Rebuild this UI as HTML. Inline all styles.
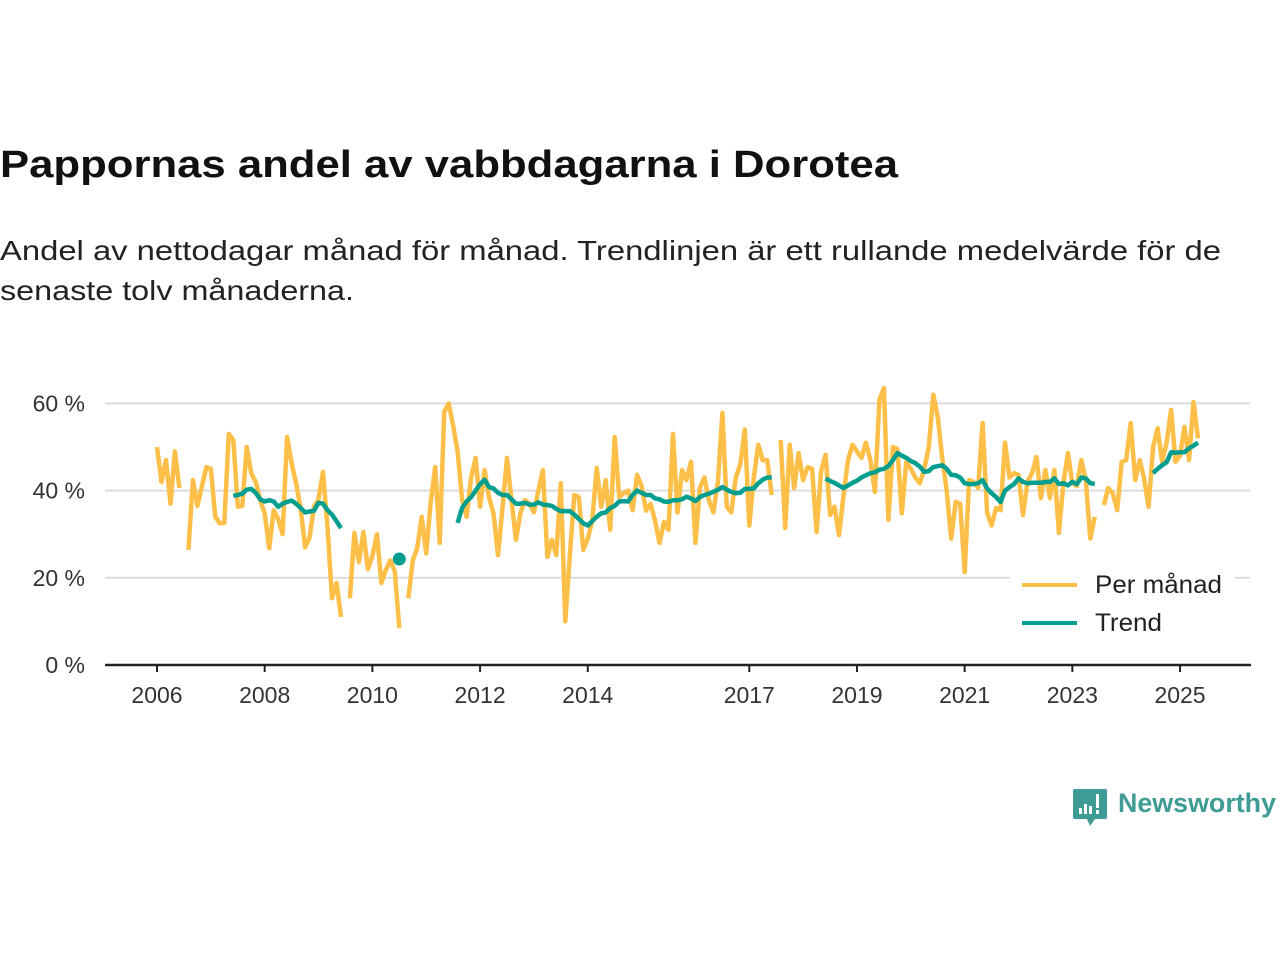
<!DOCTYPE html>
<html><head><meta charset="utf-8"><style>
html,body{margin:0;padding:0;background:#fff;width:1280px;height:960px;overflow:hidden}
svg{display:block;font-family:"Liberation Sans",sans-serif}
</style></head><body>
<svg id="chart" width="1280" height="960" viewBox="0 0 1280 960">
<text x="0" y="177" font-size="38" font-weight="bold" fill="#111" textLength="898" lengthAdjust="spacingAndGlyphs">Pappornas andel av vabbdagarna i Dorotea</text>
<text x="0" y="260" font-size="28" fill="#222" textLength="1221" lengthAdjust="spacingAndGlyphs">Andel av nettodagar månad för månad. Trendlinjen är ett rullande medelvärde för de</text>
<text x="0" y="300" font-size="28" fill="#222" textLength="354" lengthAdjust="spacingAndGlyphs">senaste tolv månaderna.</text>
<g id="grid"></g>
<g id="yaxis"></g>
<g id="xaxis"></g>
<g id="series"></g>
<g>
<rect x="1010" y="566" width="225" height="76" fill="#fff"/>
<line x1="1022" y1="585" x2="1077" y2="585" stroke="#fdbf47" stroke-width="4"/>
<text x="1095" y="593" font-size="25" fill="#222" textLength="127" lengthAdjust="spacingAndGlyphs">Per månad</text>
<line x1="1022" y1="623" x2="1077" y2="623" stroke="#009e8e" stroke-width="4"/>
<text x="1095" y="631" font-size="25" fill="#222" textLength="67" lengthAdjust="spacingAndGlyphs">Trend</text>
</g>
<g>
<path d="M1075 789 h30 a2 2 0 0 1 2 2 v26 a2 2 0 0 1 -2 2 h-10 l-5 7 l-3 -7 h-12 a2 2 0 0 1 -2 -2 v-26 a2 2 0 0 1 2 -2z" fill="#3f9c94"/>
<rect x="1079" y="808" width="3" height="6" fill="#fff"/><rect x="1084" y="804" width="3" height="10" fill="#fff"/><rect x="1089" y="806" width="3" height="8" fill="#fff"/><rect x="1096" y="794" width="3" height="14" fill="#fff"/><rect x="1096" y="810" width="3" height="4" fill="#fff"/>
<text x="1118" y="812" font-size="27" font-weight="bold" fill="#3f9c94" textLength="158" lengthAdjust="spacingAndGlyphs">Newsworthy</text>
</g>
</svg>
<script>
const monthlyValues = [50,42,47,37,49,40.6,null,26.4,42.4,36.5,41,45.4,45,34,32.5,32.6,53,51.6,36.3,36.5,50,44,42,37.8,34.8,26.8,35.5,33.5,30,52.3,46.3,41.7,36,27,29.3,36.3,38,44.3,31.7,15.3,18.8,11,null,15.3,30.3,23.6,30.5,22,25,30,18.8,21.8,24,21.5,8.5,null,15.3,24,26.8,34,25.6,37.4,45.4,28,58,60,55,49,38,34,43,47.5,36.3,44.7,38.5,34.8,25.2,36,47.5,37.8,28.7,34.8,37.8,37,35,40,44.7,24.8,28.7,25.2,41.7,10,25,39,38.5,26.4,29,33,45.2,36.3,42.4,31,52.3,38.5,39.4,40,35.5,43.6,41,35.4,37,33,28,32.8,31,53,35,44.7,42.4,46.6,28,40.6,43,37.8,35,42,57.8,36.3,35,43,46,54,32,43,50.5,47,47,39,null,51.6,31.4,50.5,40.6,48.6,42.4,45.4,45,30.5,44.5,48.2,34.4,36.3,29.8,38.8,47,50.5,49,47.5,51,47,39.7,60.8,63.5,33.3,50,49.5,34.8,46.6,45,43,41.7,45,50,62,57,47.5,40,29,37.4,37,21.3,42.4,42,40.6,55.5,35,32,36,35.5,51,43,44,43.6,34.4,42,44,47.7,38.3,44.7,38.3,44.7,30.3,41.7,48.6,41.7,41,47,42.4,29,34,null,36.7,40.6,39.4,35.5,46.6,47,55.5,42.4,47,42.8,36.3,50,54.3,46.6,51,58.5,46.6,48,54.6,47,60.3,52];
const trendStarts = [17,54,67,149,222];
const trendSeg1 = [38.8,39,39.3,40.2,40.4,39.5,38,37.5,37.8,37.5,36.3,37,37.4,37.7,37,36,35,35.2,35.4,37.2,37,35.5,34.5,33,31.4];
const trendSeg2 = [24.3];
const trendSeg3 = [32.6,36,37.5,38.5,40,41.5,42.5,40.8,40.5,39.5,39,39,38,37,37,37.2,36.8,36.8,37.3,36.8,36.7,36.5,35.8,35.3,35.3,35.3,34.5,33.5,32.5,32,33,34,34.8,35,36,36.5,37.5,37.6,37.5,39,40,39.5,39,39,38.2,38,37.5,37.4,37.8,37.8,38,38.6,38.2,37.6,38.5,39,39.3,39.7,40.2,40.8,40.2,39.7,39.4,39.5,40.4,40.4,40.5,41.7,42.5,43,43];
const trendSeg4 = [42.8,42.2,41.8,41.2,40.6,41.2,41.8,42.3,43,43.5,44,44.2,44.8,45,45.6,47,48.6,48,47.5,46.8,46.3,45.5,44.3,44.5,45.4,45.6,45.8,45,43.6,43.5,43,41.7,41.5,41.5,41.7,42.4,40.5,39.4,38.5,37.4,40,40.8,41.5,42.8,42,41.7,41.8,41.8,41.8,42,42,42.8,41.5,41.7,41.2,42,41.5,43,42.8,41.7,41.5];
const trendSeg5 = [44,45,45.8,46.5,48.8,48.7,48.8,48.8,49.7,50.3,51];
const yTicks = [0,20,40,60];
const yTickLabels = ["0 %","20 %","40 %","60 %"];
const xTickYears = [2006,2008,2010,2012,2014,2017,2019,2021,2023,2025];

const NS="http://www.w3.org/2000/svg";
const X0=157, PXM=4.487, Y0=665, PXV=4.36;
function xScale(m){return X0+m*PXM;}
function xYear(y){return xScale((y-2006)*12);}
function yScale(v){return Y0-v*PXV;}
function mk(tag,attrs,parent){const e=document.createElementNS(NS,tag);for(const k in attrs)e.setAttribute(k,attrs[k]);parent.appendChild(e);return e;}
const grid=document.getElementById('grid'),ya=document.getElementById('yaxis'),xa=document.getElementById('xaxis'),ser=document.getElementById('series');
yTicks.forEach((t,i)=>{
  if(t>0){const g=mk('line',{x1:105,x2:1250,y1:yScale(t),y2:yScale(t),stroke:'#dcdcdc','stroke-width':2},grid);
  
  }
  const tx=mk('text',{x:85,y:yScale(t)+8,'font-size':23,'text-anchor':'end',fill:'#333'},ya);
  tx.textContent=yTickLabels[i];
  
  
});
const ax=mk('line',{x1:105,x2:1251,y1:Y0,y2:Y0,stroke:'#222','stroke-width':2.5},xa);


xTickYears.forEach(y=>{
  const tk=mk('line',{x1:xYear(y),x2:xYear(y),y1:Y0,y2:Y0+7,stroke:'#222','stroke-width':2},xa);
  
  
  const tx=mk('text',{x:xYear(y),y:703,'font-size':23,'text-anchor':'middle',fill:'#333'},xa);
  tx.textContent=String(y);
  
  
});
function pathFor(vals,start){let d='',pen=false;vals.forEach((v,i)=>{if(v==null){pen=false;return;}d+=(pen?'L':'M')+xScale(start+i).toFixed(1)+' '+yScale(v).toFixed(1);pen=true;});return d;}
const mp=mk('path',{d:pathFor(monthlyValues,0),fill:'none',stroke:'#fdbf47','stroke-width':4.5,'stroke-linejoin':'round'},ser);


[trendSeg1,trendSeg2,trendSeg3,trendSeg4,trendSeg5].forEach((seg,i)=>{
  if(seg.length===1){
    const c=mk('circle',{cx:xScale(trendStarts[i]),cy:yScale(seg[0]),r:6.5,fill:'#009e8e'},ser);
    
    
  } else {
    const p=mk('path',{d:pathFor(seg,trendStarts[i]),fill:'none',stroke:'#009e8e','stroke-width':4.5,'stroke-linejoin':'round'},ser);
    
    
  }
});
</script>
</body></html>
